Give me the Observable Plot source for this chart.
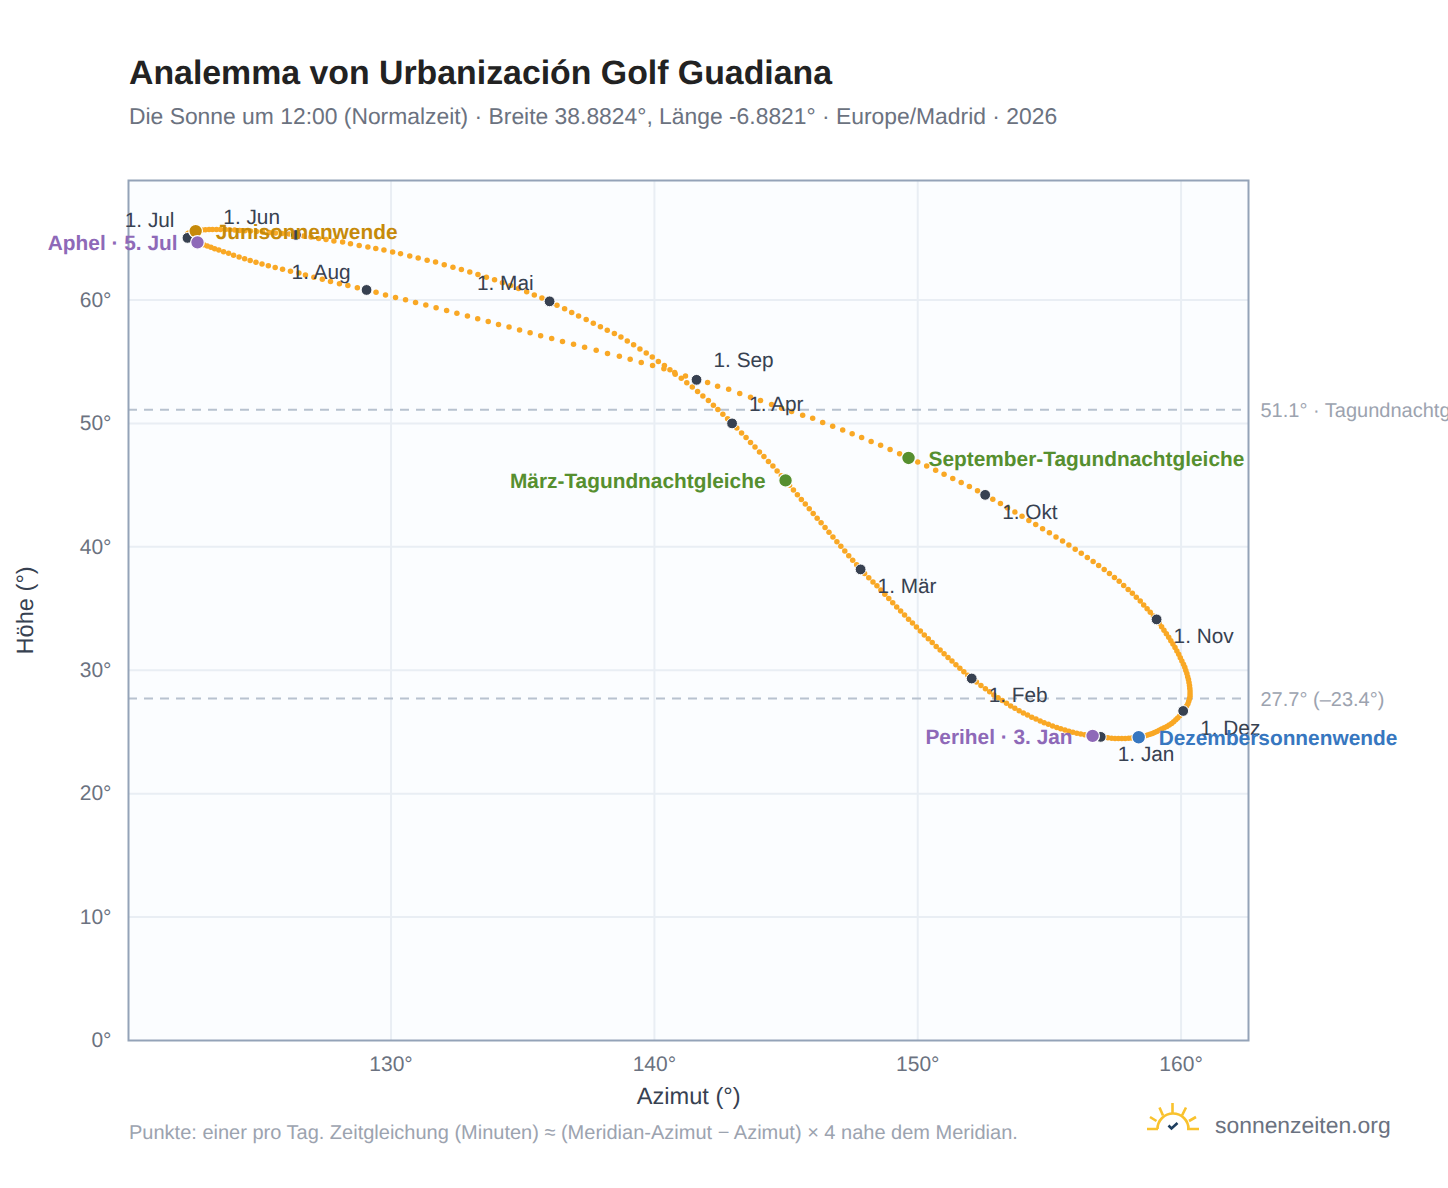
<!DOCTYPE html>
<html lang="de">
<head>
<meta charset="utf-8">
<script src="https://cdn.jsdelivr.net/npm/d3@7"></script>
<script src="https://cdn.jsdelivr.net/npm/@observablehq/plot@0.6"></script>
<style>
html,body{margin:0;padding:0;background:#fff;width:1448px;height:1188px;overflow:hidden;font-family:"Liberation Sans",Arial,sans-serif;text-rendering:geometricPrecision}
#head{position:relative;height:160px}
#title{position:absolute;left:129px;top:52px;font-size:33.85px;font-weight:700;color:#222;white-space:nowrap;line-height:42px}
#sub{position:absolute;left:129px;top:102px;font-size:22.87px;color:#6b7280;white-space:nowrap;line-height:28px}
#chart svg{display:block;overflow:hidden;text-rendering:geometricPrecision}
#cap{position:absolute;left:129px;top:1122px;font-size:20px;color:#9ca3af;white-space:nowrap;line-height:22px}
#brand{position:absolute;left:1215px;top:1110px;font-size:22.9px;color:#6b7280;white-space:nowrap;line-height:30px}
#logo{position:absolute;left:1145px;top:1100px}
</style>
</head>
<body>
<div id="head"><div id="title">Analemma von Urbanización Golf Guadiana</div>
<div id="sub">Die Sonne um 12:00 (Normalzeit) · Breite 38.8824°, Länge -6.8821° · Europe/Madrid · 2026</div></div>
<div id="chart"></div>
<div id="cap">Punkte: einer pro Tag. Zeitgleichung (Minuten) ≈ (Meridian-Azimut − Azimut) × 4 nahe dem Meridian.</div>
<svg id="logo" width="58" height="36" viewBox="0 0 58 36" fill="none">
<g stroke="#f9c22e" stroke-width="2.6" stroke-linecap="butt">
<path d="M2 29H13M42 29H54"/>
<path d="M12.5 29A15.5 15.5 0 0 1 43.5 29"/>
<path d="M27.5 13V3M18 15.5L14.5 7.5M37 15.5L41 7.5M11.5 21L5 17M44 21L51 17"/>
</g>
<path d="M23.5 25.5L26.5 28.5L32.5 23" stroke="#1f3f5f" stroke-width="2.6"/>
</svg>
<div id="brand">sonnenzeiten.org</div>
<script>
const monthNames = ["1. Jan","1. Feb","1. Mär","1. Apr","1. Mai","1. Jun","1. Jul","1. Aug","1. Sep","1. Okt","1. Nov","1. Dez"];

const azJan = [156.95,156.81,156.64,156.49,156.34,156.19,156.04,155.89,155.74,155.59,155.43,155.28,155.12,154.96,154.80,154.65,154.49,154.33,154.17,154.01,153.85,153.69,153.53,153.37,153.21,153.05,152.89,152.73,152.57,152.40,152.23];
const altJan = [24.60,24.63,24.68,24.72,24.77,24.83,24.90,24.98,25.06,25.16,25.26,25.37,25.49,25.62,25.75,25.89,26.04,26.20,26.37,26.54,26.72,26.91,27.11,27.32,27.54,27.77,28.00,28.25,28.50,28.76,29.04];
const azFeb = [152.05,151.90,151.75,151.60,151.45,151.30,151.15,151.00,150.85,150.70,150.55,150.40,150.25,150.10,149.95,149.80,149.65,149.50,149.35,149.20,149.05,148.90,148.75,148.60,148.45,148.30,148.14,147.98];
const altFeb = [29.33,29.60,29.88,30.16,30.45,30.74,31.03,31.33,31.63,31.93,32.24,32.55,32.86,33.18,33.50,33.82,34.14,34.47,34.80,35.13,35.47,35.81,36.15,36.50,36.85,37.15,37.50,37.84];
const azMar = [147.83,147.68,147.53,147.38,147.23,147.08,146.93,146.78,146.63,146.48,146.33,146.18,146.03,145.88,145.73,145.58,145.43,145.28,145.13,144.98,144.82,144.66,144.50,144.33,144.16,143.99,143.82,143.65,143.48,143.31,143.13];
const altMar = [38.17,38.54,38.91,39.28,39.66,40.04,40.42,40.80,41.18,41.56,41.94,42.32,42.70,43.08,43.46,43.84,44.22,44.60,44.99,45.38,45.76,46.15,46.54,46.92,47.31,47.69,48.08,48.46,48.85,49.23,49.62];
const azApr = [142.95,142.78,142.60,142.41,142.24,142.05,141.84,141.64,141.44,141.23,141.02,140.79,140.59,140.38,140.15,139.92,139.69,139.45,139.21,138.97,138.73,138.48,138.21,137.95,137.68,137.41,137.12,136.86,136.59,136.30];
const altApr = [50.00,50.38,50.75,51.13,51.48,51.86,52.21,52.59,52.94,53.30,53.65,53.99,54.35,54.70,55.02,55.37,55.70,56.02,56.38,56.67,56.99,57.29,57.54,57.83,58.12,58.41,58.70,58.99,59.29,59.58];
const azMay = [136.02,135.73,135.44,135.15,134.84,134.54,134.23,133.93,133.62,133.30,132.99,132.67,132.35,132.02,131.69,131.37,131.03,130.71,130.36,130.06,129.73,129.42,129.12,128.79,128.46,128.16,127.83,127.53,127.25,126.96,126.68];
const altMay = [59.89,60.15,60.41,60.67,60.92,61.17,61.40,61.63,61.85,62.06,62.26,62.46,62.66,62.86,63.07,63.21,63.40,63.56,63.75,63.88,64.04,64.18,64.29,64.42,64.56,64.69,64.77,64.89,64.99,65.10,65.19];
const azJun = [126.39,126.13,125.86,125.61,125.37,125.12,124.89,124.66,124.45,124.25,124.06,123.87,123.70,123.52,123.37,123.22,123.09,122.95,122.82,122.69,122.58,122.48,122.40,122.35,122.30,122.27,122.25,122.24,122.25,122.27];
const altJun = [65.27,65.34,65.39,65.43,65.47,65.51,65.54,65.58,65.61,65.63,65.66,65.68,65.70,65.70,65.71,65.71,65.70,65.69,65.66,65.63,65.58,65.54,65.49,65.45,65.40,65.34,65.28,65.23,65.17,65.10];
const azJul = [122.27,122.35,122.43,122.54,122.65,122.77,122.89,123.02,123.16,123.30,123.46,123.64,123.83,124.02,124.23,124.44,124.65,124.87,125.10,125.34,125.60,125.88,126.18,126.50,126.75,127.07,127.39,127.70,128.04,128.36,128.72];
const altJul = [65.03,64.95,64.86,64.76,64.67,64.57,64.47,64.38,64.27,64.16,64.04,63.91,63.78,63.63,63.48,63.34,63.19,63.05,62.91,62.77,62.63,62.48,62.33,62.18,62.02,61.85,61.67,61.49,61.32,61.18,61.00];
const azAug = [129.07,129.43,129.79,130.17,130.55,130.93,131.32,131.71,132.11,132.50,132.90,133.29,133.69,134.08,134.48,134.88,135.28,135.68,136.10,136.51,136.93,137.35,137.79,138.22,138.67,139.08,139.50,139.93,140.36,140.77,141.18];
const altAug = [60.81,60.62,60.41,60.21,60.01,59.80,59.59,59.37,59.15,58.93,58.70,58.48,58.25,58.02,57.80,57.57,57.34,57.11,56.88,56.64,56.41,56.17,55.92,55.67,55.45,55.19,54.94,54.70,54.43,54.13,53.83];
const azSep = [141.60,142.02,142.40,142.82,143.24,143.65,144.03,144.45,144.83,145.21,145.63,146.01,146.39,146.77,147.15,147.51,147.87,148.23,148.59,148.95,149.31,149.65,150.00,150.34,150.68,151.00,151.33,151.65,151.96,152.27];
const altSep = [53.53,53.32,53.00,52.76,52.43,52.11,51.86,51.54,51.22,50.97,50.65,50.41,50.08,49.76,49.46,49.16,48.85,48.54,48.22,47.89,47.55,47.20,46.87,46.54,46.21,45.87,45.54,45.22,44.89,44.55];
const azOct = [152.56,152.85,153.14,153.41,153.69,153.96,154.22,154.48,154.74,155.00,155.25,155.50,155.74,155.98,156.21,156.44,156.66,156.87,157.08,157.28,157.47,157.65,157.82,157.99,158.15,158.30,158.45,158.58,158.71,158.83,158.95];
const altOct = [44.21,43.86,43.51,43.16,42.82,42.48,42.14,41.80,41.47,41.13,40.80,40.47,40.14,39.81,39.47,39.14,38.82,38.49,38.17,37.84,37.52,37.20,36.87,36.55,36.23,35.92,35.60,35.29,34.99,34.69,34.40];
const azNov = [159.07,159.17,159.26,159.35,159.44,159.53,159.61,159.69,159.77,159.84,159.91,159.97,160.03,160.09,160.14,160.18,160.22,160.25,160.28,160.30,160.32,160.33,160.34,160.34,160.34,160.32,160.29,160.26,160.21,160.15];
const altNov = [34.12,33.82,33.53,33.24,32.96,32.67,32.39,32.12,31.84,31.56,31.29,31.02,30.75,30.49,30.24,29.98,29.73,29.48,29.24,29.00,28.77,28.54,28.32,28.10,27.89,27.69,27.49,27.29,27.11,26.90];
const azDec = [160.08,160.02,159.95,159.87,159.80,159.72,159.64,159.55,159.46,159.36,159.26,159.17,159.08,158.99,158.91,158.82,158.73,158.64,158.56,158.47,158.39,158.26,158.13,158.01,157.88,157.75,157.62,157.49,157.36,157.22,157.09];
const altDec = [26.70,26.50,26.31,26.14,25.98,25.83,25.69,25.56,25.45,25.33,25.23,25.13,25.04,24.96,24.88,24.81,24.75,24.70,24.65,24.61,24.57,24.54,24.51,24.49,24.47,24.46,24.46,24.47,24.49,24.53,24.57];

const azByMonth = [azJan,azFeb,azMar,azApr,azMay,azJun,azJul,azAug,azSep,azOct,azNov,azDec];
const altByMonth = [altJan,altFeb,altMar,altApr,altMay,altJun,altJul,altAug,altSep,altOct,altNov,altDec];

const eventLabels = ["Junisonnenwende","Aphel · 5. Jul","September-Tagundnachtgleiche","März-Tagundnachtgleiche","Perihel · 3. Jan","Dezembersonnenwende"];
const eventMonths = [5,6,8,2,0,11];
const eventDays = [21,5,22,20,3,21];
const eventColors = ["#c68a0a","#8e69b8","#568f2f","#568f2f","#8e69b8","#3777c0"];

const refValues = [51.1,27.7];
const refLabels = ["51.1° · Tagundnachtgleiche","27.7° (–23.4°)"];

const days = azByMonth.flatMap((az,m)=>az.map((a,i)=>({az:a,alt:altByMonth[m][i]})));
const firsts = monthNames.map((label,m)=>({label,az:azByMonth[m][0],alt:altByMonth[m][0]}));
const events = eventLabels.map((label,i)=>({label,color:eventColors[i],
  az:azByMonth[eventMonths[i]][eventDays[i]-1],alt:altByMonth[eventMonths[i]][eventDays[i]-1]}));
const refs = refValues.map((v,i)=>({v,label:refLabels[i]}));

const upLeft = new Set(["1. Mai","1. Jun","1. Aug"]);
const julOnly = new Set(["1. Jul"]);
const upRight = new Set(["1. Apr","1. Sep"]);
const leftEvents = new Set(["Aphel · 5. Jul","März-Tagundnachtgleiche","Perihel · 3. Jan"]);
const monthFont = {fontSize:20.8,fill:"#374151"};
const eventFont = {fontSize:20.85,fontWeight:700};

const chart = Plot.plot({
  width:1448,height:950,marginLeft:128,marginRight:200,marginTop:20,marginBottom:70,
  style:{fontFamily:'"Liberation Sans",Arial,sans-serif',background:"transparent",overflow:"hidden"},
  x:{domain:[120.03,162.56]},
  y:{domain:[0,69.68]},
  marks:[
    Plot.frame({fill:"#fbfdff",stroke:null}),
    Plot.gridX([130,140,150,160],{stroke:"#e9eef4",strokeWidth:2,strokeOpacity:1}),
    Plot.gridY([10,20,30,40,50,60],{stroke:"#e9eef4",strokeWidth:2,strokeOpacity:1}),
    Plot.ruleY(refs,{y:"v",stroke:"#b8c2cf",strokeWidth:2,strokeDasharray:"9,7"}),
    Plot.frame({stroke:"#94a3b8",strokeWidth:2}),
    Plot.axisX([130,140,150,160],{tickSize:0,tickPadding:16,tickFormat:d=>d+"°",fontSize:21,color:"#6b7280",
      label:null}),
    Plot.axisY([0,10,20,30,40,50,60],{tickSize:0,tickPadding:17,tickFormat:d=>d+"°",fontSize:21,color:"#6b7280",
      label:null}),
    Plot.text(["Azimut (°)"],{frameAnchor:"bottom",dy:63,fontSize:23.6,fill:"#374151",
      x:()=>141.3}),
    Plot.text(["Höhe (°)"],{frameAnchor:"left",textAnchor:"middle",dx:-103,rotate:-90,fontSize:23.6,fill:"#374151",
      y:()=>34.85}),
    Plot.text(refs,{x:()=>162.56,y:"v",text:"label",textAnchor:"start",dx:12,dy:1,fontSize:20,fill:"#9ca3af"}),
    Plot.dot(days,{x:"az",y:"alt",r:2.75,fill:"#f9a825",stroke:null}),
    Plot.dot(firsts,{x:"az",y:"alt",r:5.4,fill:"#374151",stroke:"#ffffff",strokeWidth:1}),
    Plot.text(firsts.filter(d=>upLeft.has(d.label)),{x:"az",y:"alt",text:"label",textAnchor:"end",dx:-16,dy:-18,...monthFont}),
    Plot.text(firsts.filter(d=>julOnly.has(d.label)),{x:"az",y:"alt",text:"label",textAnchor:"end",dx:-13,dy:-18,...monthFont}),
    Plot.text(firsts.filter(d=>upRight.has(d.label)),{x:"az",y:"alt",text:"label",textAnchor:"start",dx:17,dy:-19,...monthFont}),
    Plot.text(firsts.filter(d=>!upLeft.has(d.label)&&!julOnly.has(d.label)&&!upRight.has(d.label)),{x:"az",y:"alt",text:"label",textAnchor:"start",dx:17,dy:17,...monthFont}),
    Plot.dot(events,{x:"az",y:"alt",r:6.8,fill:"color",stroke:"#ffffff",strokeWidth:1.2}),
    Plot.text(events.filter(d=>leftEvents.has(d.label)),{x:"az",y:"alt",text:"label",fill:"color",textAnchor:"end",dx:-20,dy:1,...eventFont}),
    Plot.text(events.filter(d=>!leftEvents.has(d.label)),{x:"az",y:"alt",text:"label",fill:"color",textAnchor:"start",dx:20,dy:1,...eventFont})
  ]
});
document.getElementById("chart").appendChild(chart);
</script>
</body>
</html>
